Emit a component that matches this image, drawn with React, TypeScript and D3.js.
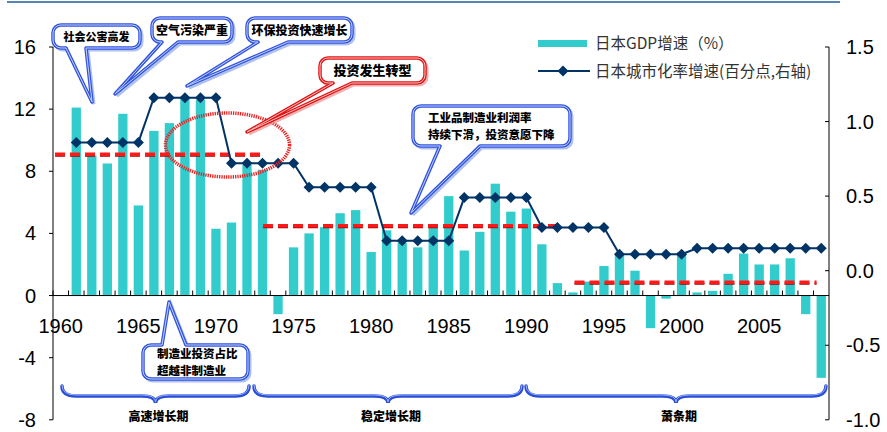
import React from 'react';
import * as d3 from 'd3';

const years: number[] = [
  1960, 1961, 1962, 1963, 1964, 1965, 1966, 1967, 1968, 1969,
  1970, 1971, 1972, 1973, 1974, 1975, 1976, 1977, 1978, 1979,
  1980, 1981, 1982, 1983, 1984, 1985, 1986, 1987, 1988, 1989,
  1990, 1991, 1992, 1993, 1994, 1995, 1996, 1997, 1998, 1999,
  2000, 2001, 2002, 2003, 2004, 2005, 2006, 2007, 2008, 2009,
];

const gdpGrowth: (number | null)[] = [
  null, 12.1, 9.0, 8.5, 11.7, 5.8, 10.6, 11.1, 12.7, 12.6,
  4.3, 4.7, 8.4, 8.1, -1.2, 3.1, 4.0, 4.4, 5.3, 5.5,
  2.8, 4.2, 3.4, 3.1, 4.4, 6.4, 2.9, 4.1, 7.2, 5.4,
  5.6, 3.3, 0.8, 0.2, 0.9, 1.9, 2.6, 1.6, -2.1, -0.2,
  2.8, 0.2, 0.3, 1.4, 2.7, 2.0, 2.0, 2.4, -1.2, -5.3,
];

const urbanGrowth: (number | null)[] = [
  null, 0.86, 0.86, 0.86, 0.86, 0.86, 1.16, 1.16, 1.16, 1.16,
  1.16, 0.72, 0.72, 0.72, 0.72, 0.72, 0.56, 0.56, 0.56, 0.56,
  0.56, 0.2, 0.2, 0.2, 0.2, 0.2, 0.49, 0.49, 0.49, 0.49,
  0.49, 0.29, 0.29, 0.29, 0.29, 0.29, 0.11, 0.11, 0.11, 0.11,
  0.11, 0.15, 0.15, 0.15, 0.15, 0.15, 0.15, 0.15, 0.15, 0.15,
];

const leftTicks = [16, 12, 8, 4, 0, -4, -8];
const rightTicks = [1.5, 1.0, 0.5, 0.0, -0.5, -1.0];
const xLabelYears = [1960, 1965, 1970, 1975, 1980, 1985, 1990, 1995, 2000, 2005];

// average GDP growth levels per stage (red dashed)
const avgLevel = [9.1, 4.5, 0.85];
const avgFrom = [1959.63, 1973.03, 1993.1];
const avgTo = [1972.97, 1992.04, 2008.7];

// stages (braces)
const stageNames = ['高速增长期', '稳定增长期', '萧条期'];
const stageFrom = [1960.08, 1972.45, 1989.98];
const stageTo = [1972.13, 1989.72, 2009.3];

const legendNames = ['日本GDP增速（%）', '日本城市化率增速(百分点,右轴)'];

type Callout = {
  x: number; y: number; w: number; h: number;
  lines: string[]; size: number; align: 'middle' | 'start'; tx: number;
  edge: 'top' | 'bottom'; b1: number; b2: number; tip: [number, number];
  red?: boolean;
};

const callouts: Callout[] = [
  { x: 53, y: 25, w: 87, h: 23, lines: ['社会公害高发'], size: 11, align: 'middle', tx: 0, edge: 'bottom', b1: 66, b2: 86, tip: [92, 102] },
  { x: 152, y: 18, w: 80, h: 24, lines: ['空气污染严重'], size: 12, align: 'middle', tx: 0, edge: 'bottom', b1: 162, b2: 178, tip: [115, 94] },
  { x: 247, y: 18, w: 105, h: 24, lines: ['环保投资快速增长'], size: 12, align: 'middle', tx: 0, edge: 'bottom', b1: 258, b2: 288, tip: [187, 86] },
  { x: 320, y: 58, w: 105, h: 25, lines: ['投资发生转型'], size: 13, align: 'middle', tx: 0, edge: 'bottom', b1: 333, b2: 352, tip: [247, 132], red: true },
  { x: 413, y: 106, w: 157, h: 40, lines: ['工业品制造业利润率', '持续下滑，投资意愿下降'], size: 11.5, align: 'start', tx: 428, edge: 'bottom', b1: 440, b2: 480, tip: [411, 213] },
  { x: 143, y: 345, w: 105, h: 34, lines: ['制造业投资占比', '超越非制造业'], size: 11.5, align: 'start', tx: 157, edge: 'top', b1: 162, b2: 186, tip: [169, 302] },
];

function calloutPath(c: Callout): string {
  const r = 8;
  const { x, y, w, h } = c;
  let p = `M${x + r},${y}`;
  if (c.edge === 'top') p += ` L${c.b1},${y} L${c.tip[0]},${c.tip[1]} L${c.b2},${y}`;
  p += ` L${x + w - r},${y} A${r},${r} 0 0 1 ${x + w},${y + r}`;
  p += ` L${x + w},${y + h - r} A${r},${r} 0 0 1 ${x + w - r},${y + h}`;
  if (c.edge === 'bottom') p += ` L${c.b2},${y + h} L${c.tip[0]},${c.tip[1]} L${c.b1},${y + h}`;
  p += ` L${x + r},${y + h} A${r},${r} 0 0 1 ${x},${y + h - r}`;
  p += ` L${x},${y + r} A${r},${r} 0 0 1 ${x + r},${y} Z`;
  return p;
}

const TEAL = '#33CCCC';
const NAVY = '#003366';
const NUM_FONT = '"Liberation Sans", Arial, sans-serif';
const CJK_FONT = '"Noto Sans CJK SC", "Noto Sans", sans-serif';

export default function App() {
  const W = 887, H = 432;
  const x0 = 53, x1 = 829, yTop = 47, yBot = 419.8;

  const xBand = d3.scaleBand<number>().domain(years).range([x0, x1]).paddingInner(0.4).paddingOuter(0.2);
  const xLin = d3.scaleLinear().domain([1959.5, 2009.5]).range([x0, x1]);
  const yL = d3.scaleLinear().domain([-8, 16]).range([yBot, yTop]);
  const yR = d3.scaleLinear().domain([-1, 1.5]).range([yBot, yTop]);
  const bw = xBand.bandwidth();
  const cx = (yr: number) => (xBand(yr) as number) + bw / 2;
  const y0 = yL(0);

  const linePts: [number, number][] = [];
  years.forEach((yr, i) => {
    const v = urbanGrowth[i];
    if (v != null) linePts.push([cx(yr), yR(v)]);
  });
  const linePath = d3.line()(linePts) || '';
  const diamond = (x: number, y: number, s = 5.5) => `M${x},${y - s} L${x + s},${y} L${x},${y + s} L${x - s},${y} Z`;

  const bracePath = (a: number, b: number) => {
    const ya = 386, yb = 396, yc = 403, q = 14;
    const m = (a + b) / 2;
    return `M${a},${ya} Q${a},${yb} ${a + q},${yb} L${m - q},${yb} Q${m},${yb} ${m},${yc} Q${m},${yb} ${m + q},${yb} L${b - q},${yb} Q${b},${yb} ${b},${ya}`;
  };

  return (
    <svg width={W} height={H} style={{ position: 'absolute', left: 0, top: 0, background: '#fff' }}>
      <line x1={7} x2={840} y1={2} y2={2} stroke="#1f5c99" strokeWidth={1.5} />

      {/* bars */}
      {years.map((yr, i) => {
        const v = gdpGrowth[i];
        if (v == null) return null;
        const y = yL(Math.max(0, v));
        const h = Math.abs(yL(v) - y0);
        return <rect key={yr} x={xBand(yr)} y={y} width={bw} height={h} fill={TEAL} />;
      })}

      {/* x axis */}
      <line x1={x0} x2={x1} y1={y0} y2={y0} stroke="#000" strokeWidth={1} />
      {years.map((yr) => (
        <line key={'t' + yr} x1={xLin(yr - 0.5)} x2={xLin(yr - 0.5)} y1={y0} y2={y0 - 5} stroke="#000" strokeWidth={1} />
      ))}
      {xLabelYears.map((yr) => (
        <text key={'xl' + yr} x={cx(yr)} y={333} textAnchor="middle" fontFamily={NUM_FONT} fontSize={20} fill="#000">{yr}</text>
      ))}

      {/* left axis */}
      <line x1={x0} x2={x0} y1={yTop} y2={yBot} stroke="#000" strokeWidth={1} />
      {leftTicks.map((t) => (
        <g key={'lt' + t}>
          <line x1={x0 - 4} x2={x0} y1={yL(t)} y2={yL(t)} stroke="#000" />
          <text x={36} y={yL(t) + 7} textAnchor="end" fontFamily={NUM_FONT} fontSize={20} fill="#000">{t}</text>
        </g>
      ))}

      {/* right axis */}
      <line x1={x1} x2={x1} y1={yTop} y2={yBot} stroke="#000" strokeWidth={1} />
      {rightTicks.map((t) => (
        <g key={'rt' + t}>
          <line x1={x1 - 4} x2={x1} y1={yR(t)} y2={yR(t)} stroke="#000" />
          <text x={846} y={yR(t) + 7} textAnchor="start" fontFamily={NUM_FONT} fontSize={20} fill="#000">{t.toFixed(1)}</text>
        </g>
      ))}

      {/* red dashed average lines */}
      {avgLevel.map((v, i) => (
        <g key={'avg' + i}>
          <line x1={xLin(avgFrom[i])} x2={xLin(avgTo[i])} y1={yL(v) + 1.5} y2={yL(v) + 1.5} stroke="#a00000" strokeWidth={2} strokeDasharray="10 5" />
          <line x1={xLin(avgFrom[i])} x2={xLin(avgTo[i])} y1={yL(v)} y2={yL(v)} stroke="#ff1a1a" strokeWidth={3.5} strokeDasharray="10 5" />
        </g>
      ))}

      {/* urbanization line */}
      <path d={linePath} fill="none" stroke={NAVY} strokeWidth={2} />
      {linePts.map(([x, y], i) => (
        <path key={'d' + i} d={diamond(x, y)} fill={NAVY} />
      ))}

      {/* red ellipse */}
      <ellipse cx={227.5} cy={145} rx={62} ry={32} fill="none" stroke="#ee2222" strokeWidth={3.5} strokeDasharray="1.3 1" />

      {/* callouts */}
      {callouts.map((c, i) => {
        const d = calloutPath(c);
        const outer = c.red ? '#e01515' : '#3355dd';
        const inner = c.red ? '#ffc0c0' : '#c0d0ff';
        const shadow = c.red ? '#e89090' : '#8fa6e6';
        const n = c.lines.length;
        const lh = 16.8;
        const midY = c.y + c.h / 2;
        const tx = c.align === 'middle' ? c.x + c.w / 2 : c.tx;
        return (
          <g key={'c' + i}>
            <path d={d} transform="translate(2,2)" fill="none" stroke={shadow} strokeWidth={3} opacity={0.7} />
            <path d={d} fill="#fff" stroke={outer} strokeWidth={3.5} strokeLinejoin="round" />
            <path d={d} fill="none" stroke={inner} strokeWidth={1} strokeLinejoin="round" />
            {c.lines.map((ln, j) => (
              <text
                key={j}
                x={tx}
                y={midY + (j - (n - 1) / 2) * lh + c.size * 0.38}
                textAnchor={c.align}
                fontFamily={CJK_FONT}
                fontWeight={900}
                fontSize={c.size}
                fill="#000"
              >{ln}</text>
            ))}
          </g>
        );
      })}

      {/* braces */}
      {stageNames.map((s, i) => {
        const a = xLin(stageFrom[i]), b = xLin(stageTo[i]);
        return (
          <g key={'s' + i}>
            <path d={bracePath(a, b)} fill="none" stroke="#2a4fd6" strokeWidth={3.5} strokeLinecap="round" />
            <path d={bracePath(a, b)} transform="translate(0,-1)" fill="none" stroke="#9ab0ff" strokeWidth={1} />
            <text x={(a + b) / 2 + 3} y={421} textAnchor="middle" fontFamily={CJK_FONT} fontWeight={900} fontSize={12} fill="#000">{s}</text>
          </g>
        );
      })}

      {/* legend */}
      <rect x={538} y={40} width={49} height={7} fill={TEAL} />
      <text x={595} y={49} fontFamily={CJK_FONT} fontSize={15.5} fill="#333">{legendNames[0]}</text>
      <line x1={538} x2={590} y1={71} y2={71} stroke={NAVY} strokeWidth={2} />
      <path d={diamond(563, 71)} fill={NAVY} />
      <text x={595} y={77} fontFamily={CJK_FONT} fontSize={15.5} fill="#333">{legendNames[1]}</text>
    </svg>
  );
}
